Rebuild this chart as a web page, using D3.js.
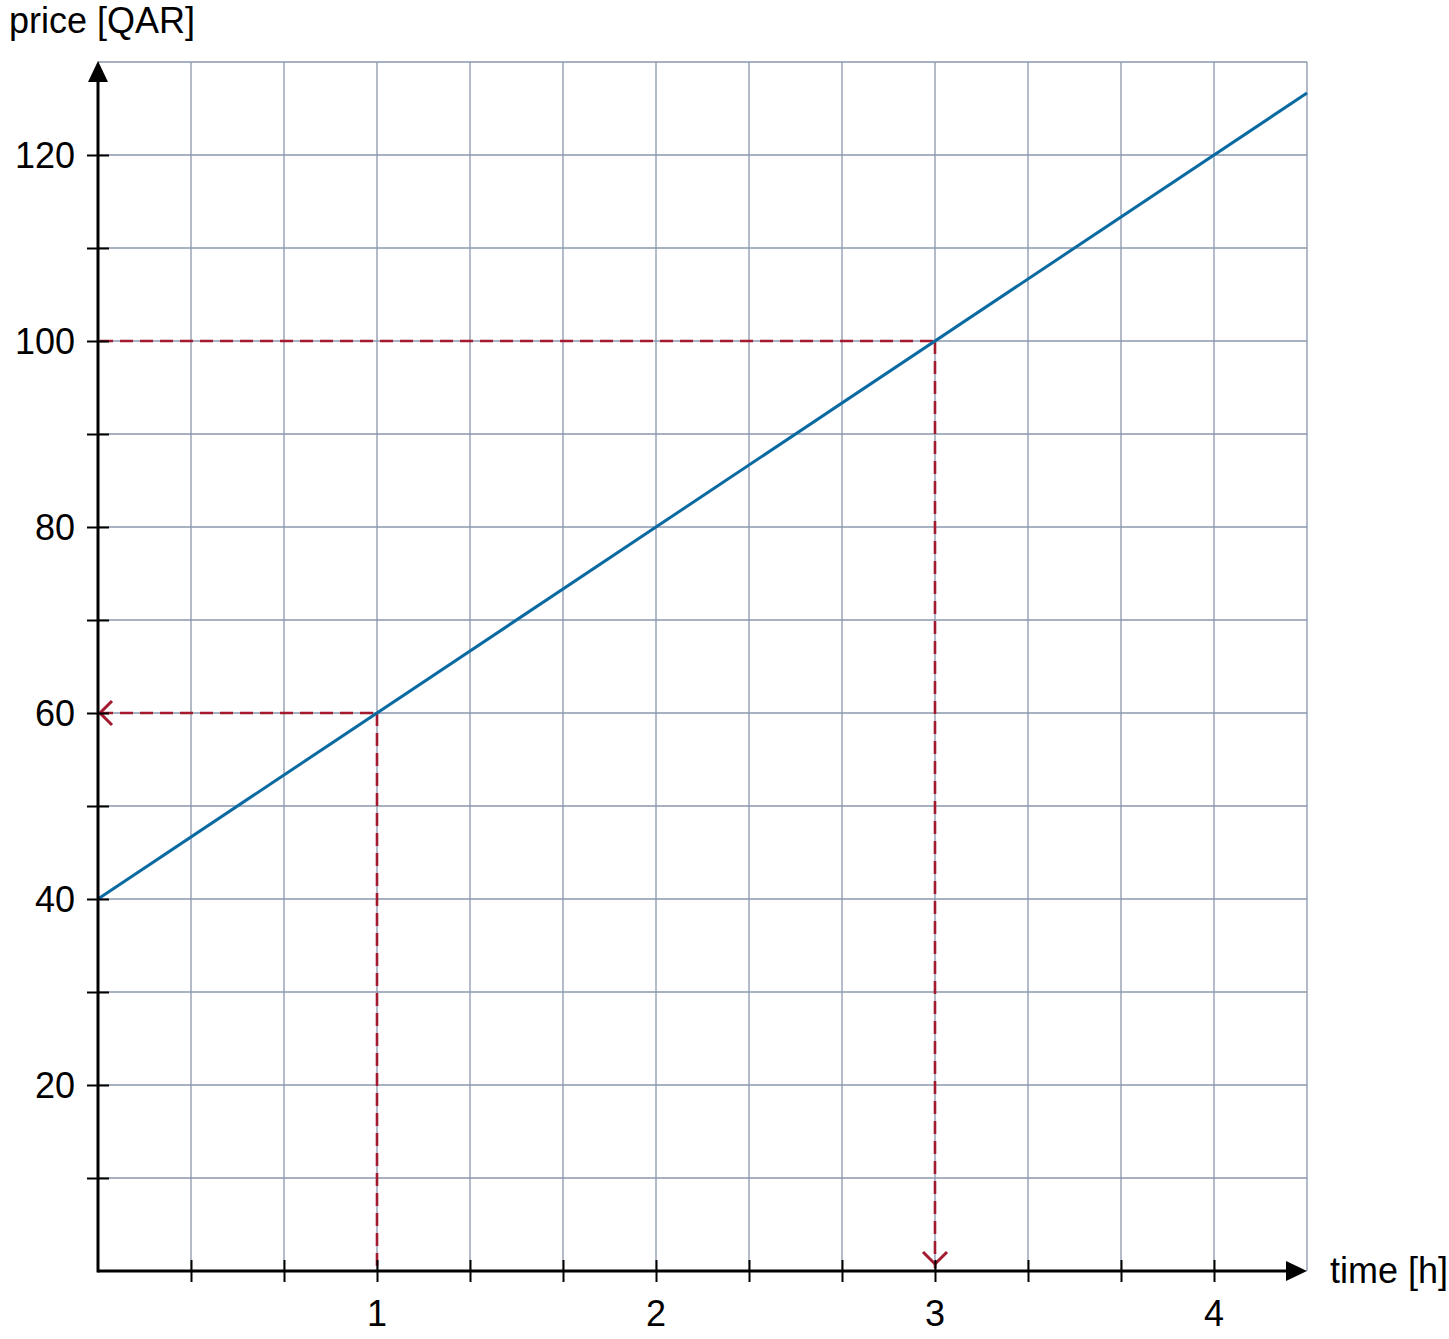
<!DOCTYPE html>
<html>
<head>
<meta charset="utf-8">
<script src="https://cdn.jsdelivr.net/npm/d3@7"></script>
<style>
  body { margin: 0; background: #fff; }
  text { font-family: "Liberation Sans", Arial, sans-serif; fill: #000; }
</style>
</head>
<body>
<div id="chart"></div>
<script>
// price = 40 + 20 * time
const lineX = [0, 13 / 3];
const lineY = [40, 126.667];
const xTicks = [1, 2, 3, 4];
const yTicks = [20, 40, 60, 80, 100, 120];
const xGrid = d3.range(1, 14).map(i => i / 3);
const yGrid = d3.range(10, 131, 10);
// dashed reading guides
const readings = [
  { t: 1, p: 60, arrow: "left" },
  { t: 3, p: 100, arrow: "down" }
];

const width = 1449, height = 1339;
const x = d3.scaleLinear().domain([0, 13 / 3]).range([98, 1307]);
const y = d3.scaleLinear().domain([0, 130]).range([1271, 62]);

const svg = d3.select("#chart").append("svg")
  .attr("width", width).attr("height", height);

// grid
svg.append("g").selectAll("line").data(xGrid).join("line")
  .attr("x1", d => x(d)).attr("x2", d => x(d))
  .attr("y1", y(0)).attr("y2", y(130))
  .attr("stroke", "#8a97ad").attr("stroke-width", 1.3);
svg.append("g").selectAll("line").data(yGrid).join("line")
  .attr("x1", x(0)).attr("x2", x(13 / 3))
  .attr("y1", d => y(d)).attr("y2", d => y(d))
  .attr("stroke", "#8a97ad").attr("stroke-width", 1.3);

// red guides
const red = "#a3192e";
const guides = svg.append("g").attr("stroke", red).attr("stroke-width", 2.6)
  .attr("fill", "none").attr("stroke-dasharray", "13,7");
readings.forEach(r => {
  guides.append("line")
    .attr("x1", x(0) + 2).attr("x2", x(r.t))
    .attr("y1", y(r.p)).attr("y2", y(r.p));
  guides.append("line")
    .attr("x1", x(r.t)).attr("x2", x(r.t))
    .attr("y1", y(r.p)).attr("y2", y(0) - 3);
});
readings.forEach(r => {
  let p;
  if (r.arrow === "left") {
    const ax = x(0) + 2, ay = y(r.p);
    p = `M${ax + 12},${ay - 12}L${ax},${ay}L${ax + 12},${ay + 12}`;
  } else {
    const ax = x(r.t), ay = y(0) - 7;
    p = `M${ax - 12},${ay - 12}L${ax},${ay}L${ax + 12},${ay - 12}`;
  }
  svg.append("path").attr("d", p).attr("fill", "none")
    .attr("stroke", red).attr("stroke-width", 3);
});

// price line
svg.append("path")
  .datum(d3.zip(lineX, lineY))
  .attr("d", d3.line().x(d => x(d[0])).y(d => y(d[1])))
  .attr("fill", "none").attr("stroke", "#0b6aa2").attr("stroke-width", 3);

// axes
const xAxis = svg.append("g").attr("transform", `translate(0,${y(0)})`)
  .call(d3.axisBottom(x).tickValues(xGrid.filter(d => d < 4.3)).tickSize(0).tickFormat(""));
xAxis.select(".domain").remove();
xAxis.selectAll(".tick line").attr("y1", -11).attr("y2", 11)
  .attr("stroke", "#000").attr("stroke-width", 2);
const yAxis = svg.append("g").attr("transform", `translate(${x(0)},0)`)
  .call(d3.axisLeft(y).tickValues(yGrid.filter(d => d < 130)).tickSize(0).tickFormat(""));
yAxis.select(".domain").remove();
yAxis.selectAll(".tick line").attr("x1", -11).attr("x2", 11)
  .attr("stroke", "#000").attr("stroke-width", 2);

svg.append("line").attr("x1", x(0)).attr("x2", 1288)
  .attr("y1", y(0)).attr("y2", y(0)).attr("stroke", "#000").attr("stroke-width", 3);
svg.append("line").attr("x1", x(0)).attr("x2", x(0))
  .attr("y1", y(0) + 1.5).attr("y2", 80).attr("stroke", "#000").attr("stroke-width", 3);
svg.append("path").attr("d", `M1307,${y(0)}L1286,${y(0) - 10}L1286,${y(0) + 10}Z`).attr("fill", "#000");
svg.append("path").attr("d", `M${x(0)},61L${x(0) - 10},82L${x(0) + 10},82Z`).attr("fill", "#000");

// tick labels
svg.append("g").selectAll("text").data(xTicks).join("text")
  .attr("x", d => x(d)).attr("y", 1326)
  .attr("text-anchor", "middle").attr("font-size", 36).text(d => d);
svg.append("g").selectAll("text").data(yTicks).join("text")
  .attr("x", 75).attr("y", d => y(d) + 13)
  .attr("text-anchor", "end").attr("font-size", 36).text(d => d);

// axis titles
svg.append("text").attr("x", 9).attr("y", 33).attr("font-size", 36).text("price [QAR]");
svg.append("text").attr("x", 1330).attr("y", 1283).attr("font-size", 36).text("time [h]");
</script>
</body>
</html>
